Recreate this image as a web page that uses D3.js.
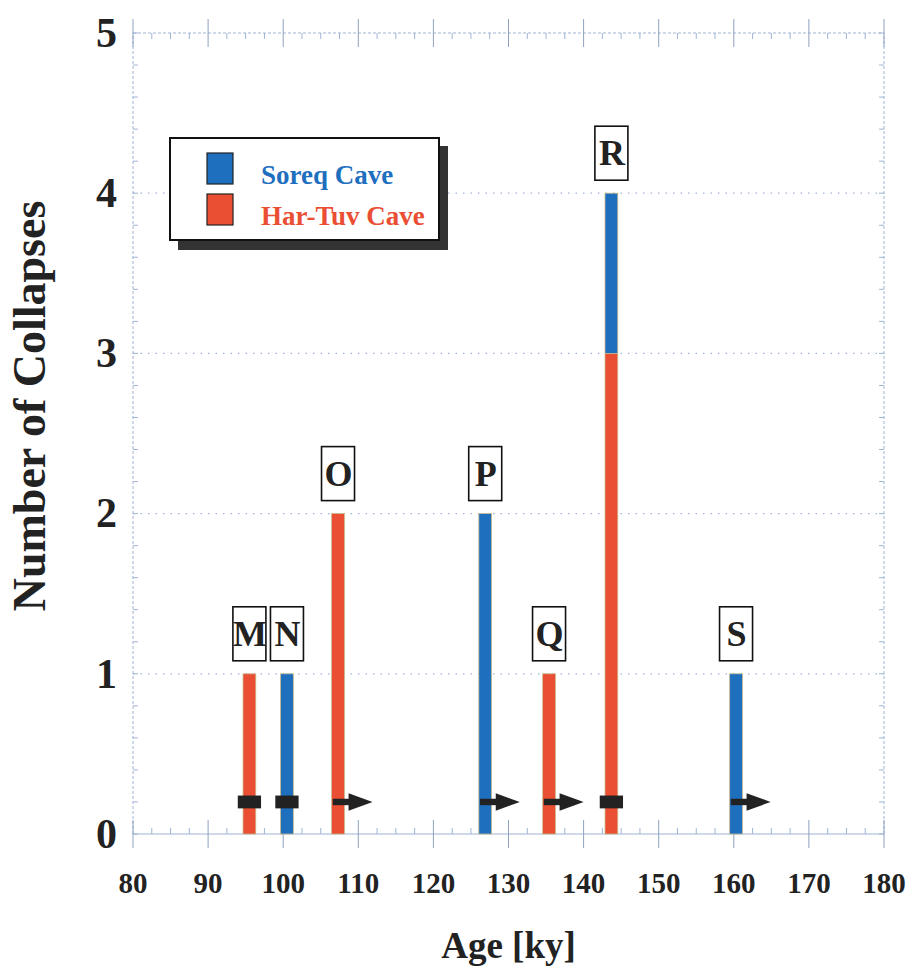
<!DOCTYPE html>
<html>
<head>
<meta charset="utf-8">
<script src="https://cdn.jsdelivr.net/npm/d3@7"></script>
<style>
  body { margin: 0; background: #fff; }
  text { font-family: "Liberation Serif", "Times New Roman", serif; font-weight: bold; }
</style>
</head>
<body>
<div id="chart"></div>
<script>
// Collapse events
const events = ["M", "N", "O", "P", "Q", "R", "S"];
const ages = [95.5, 100.5, 107.3, 126.9, 135.4, 143.7, 160.3];
const harTuv = [1, 0, 2, 0, 1, 3, 0];
const soreq = [0, 1, 0, 2, 0, 1, 1];
// marker drawn near the base of each bar: "box" = dated, "arrow" = older than
const markerTypes = ["box", "box", "arrow", "arrow", "arrow", "box", "arrow"];
const xTicks = [80, 90, 100, 110, 120, 130, 140, 150, 160, 170, 180];
const yTicks = [0, 1, 2, 3, 4, 5];
const seriesNames = ["Soreq Cave", "Har-Tuv Cave"];

const colorSoreq = "#1f6fbf";
const colorHar = "#ea4e33";
const axisColor = "#9fb4d3";

const svg_width = 908;
const svg_height = 972;
const margin = { top: 33, right: 24, bottom: 138, left: 133 };

const x = d3.scaleLinear()
  .domain([80, 180])
  .range([margin.left, svg_width - margin.right]);
const y = d3.scaleLinear()
  .domain([0, 5])
  .range([svg_height - margin.bottom, margin.top]);

const svg = d3.select("#chart").append("svg")
  .attr("width", svg_width)
  .attr("height", svg_height);

const x0 = x(80), x1 = x(180), y0 = y(0), y1 = y(5);

// Gridlines (dotted)
svg.append("g").selectAll("line")
  .data(yTicks.filter(d => d > 0 && d < 5))
  .enter().append("line")
  .attr("x1", x0).attr("x2", x1)
  .attr("y1", d => y(d)).attr("y2", d => y(d))
  .attr("stroke", axisColor)
  .attr("stroke-width", 1.2)
  .attr("stroke-dasharray", "1.5,6");

// Frame
const frame = svg.append("g").attr("stroke", axisColor).attr("stroke-width", 1);
frame.append("line").attr("x1", x0).attr("x2", x1).attr("y1", y0).attr("y2", y0);
frame.append("line").attr("x1", x0).attr("x2", x1).attr("y1", y1).attr("y2", y1).attr("stroke-dasharray", "3,2");
frame.append("line").attr("x1", x0).attr("x2", x0).attr("y1", y0).attr("y2", y1).attr("stroke-dasharray", "3,2");
frame.append("line").attr("x1", x1).attr("x2", x1).attr("y1", y0).attr("y2", y1).attr("stroke-dasharray", "3,2");

// x ticks: major crossing, minor every 2.5
const xMinor = d3.range(80, 180.01, 2.5).filter(d => d % 10 !== 0);
[y0, y1].forEach(function(yy, i) {
  const dir = i === 0 ? -1 : 1;
  frame.append("g").selectAll("line").data(xTicks).enter().append("line")
    .attr("x1", d => x(d)).attr("x2", d => x(d))
    .attr("y1", yy - 14).attr("y2", yy + 14)
    .attr("stroke", "#8ea2bf");
  frame.append("g").selectAll("line").data(xMinor).enter().append("line")
    .attr("x1", d => x(d)).attr("x2", d => x(d))
    .attr("y1", yy).attr("y2", yy + dir * 6);
});
// y ticks: minor every 0.2
const yMinor = d3.range(0, 5.001, 0.2);
[x0, x1].forEach(function(xx, i) {
  const dir = i === 0 ? 1 : -1;
  frame.append("g").selectAll("line").data(yMinor).enter().append("line")
    .attr("y1", d => y(d)).attr("y2", d => y(d))
    .attr("x1", xx).attr("x2", xx + dir * 5);
});

// Bars (Har-Tuv at bottom, Soreq stacked on top)
const barW = 1.7;
const bars = svg.append("g");
ages.forEach(function(a, i) {
  const stacks = [
    { lo: 0, hi: harTuv[i], color: colorHar },
    { lo: harTuv[i], hi: harTuv[i] + soreq[i], color: colorSoreq }
  ].filter(s => s.hi > s.lo);
  bars.selectAll(null).data(stacks).enter().append("rect")
    .attr("x", x(a - barW / 2))
    .attr("width", x(a + barW / 2) - x(a - barW / 2))
    .attr("y", s => y(s.hi))
    .attr("height", s => y(s.lo) - y(s.hi))
    .attr("fill", s => s.color)
    .attr("stroke", "#c9b98a")
    .attr("stroke-width", 0.8);
});

// Markers at 0.2
const markerY = 0.2;
const markers = svg.append("g").attr("fill", "#222");
ages.forEach(function(a, i) {
  if (markerTypes[i] === "box") {
    markers.append("rect")
      .attr("x", x(a - 1.55)).attr("width", x(a + 1.55) - x(a - 1.55))
      .attr("y", y(markerY + 0.04)).attr("height", y(markerY - 0.04) - y(markerY + 0.04));
  } else {
    markers.append("rect")
      .attr("x", x(a - 0.7)).attr("width", x(a + 1.5) - x(a - 0.7))
      .attr("y", y(markerY + 0.02)).attr("height", y(markerY - 0.02) - y(markerY + 0.02));
    markers.append("path")
      .attr("d", "M" + x(a + 1.4) + "," + y(markerY + 0.055) +
        "L" + x(a + 4.6) + "," + y(markerY) +
        "L" + x(a + 1.4) + "," + y(markerY - 0.055) + "Z");
  }
});

// Event labels in boxes
const labels = svg.append("g");
ages.forEach(function(a, i) {
  const top = y(harTuv[i] + soreq[i]);
  const g = labels.append("g").attr("transform", "translate(" + x(a) + "," + (top - 13) + ")");
  g.append("rect")
    .attr("x", -16.5).attr("y", -54).attr("width", 33).attr("height", 54)
    .attr("fill", "#fff").attr("stroke", "#111").attr("stroke-width", 1.6);
  g.append("text")
    .attr("x", 0.5).attr("y", -15)
    .attr("text-anchor", "middle")
    .attr("font-size", 36)
    .attr("fill", "#222")
    .text(events[i]);
});

// Tick labels
svg.append("g").selectAll("text").data(yTicks).enter().append("text")
  .attr("x", 117).attr("y", d => y(d)).attr("dy", "0.33em")
  .attr("text-anchor", "end").attr("font-size", 42).attr("fill", "#222")
  .text(d => d);
svg.append("g").selectAll("text").data(xTicks).enter().append("text")
  .attr("x", d => x(d)).attr("y", 893)
  .attr("text-anchor", "middle").attr("font-size", 29).attr("fill", "#222")
  .text(d => d);

// Axis titles
svg.append("text")
  .attr("x", (x0 + x1) / 2).attr("y", 958)
  .attr("text-anchor", "middle").attr("font-size", 37).attr("fill", "#222")
  .text("Age [ky]");
svg.append("text")
  .attr("transform", "translate(45," + 406 + ") rotate(-90)")
  .attr("text-anchor", "middle").attr("font-size", 46).attr("fill", "#222")
  .text("Number of Collapses");

// Legend
const legend = svg.append("g").attr("transform", "translate(170,138)");
legend.append("rect")
  .attr("x", 8).attr("y", 8).attr("width", 270).attr("height", 104)
  .attr("fill", "#333");
legend.append("rect")
  .attr("x", 0).attr("y", 0).attr("width", 269).attr("height", 102)
  .attr("fill", "#fff").attr("stroke", "#111").attr("stroke-width", 2);
const legendColors = [colorSoreq, colorHar];
seriesNames.forEach(function(name, i) {
  legend.append("rect")
    .attr("x", 37).attr("y", 15 + i * 41).attr("width", 26).attr("height", 31)
    .attr("fill", legendColors[i]).attr("stroke", "#222").attr("stroke-width", 1.2);
  legend.append("text")
    .attr("x", 91).attr("y", 46 + i * 41)
    .attr("font-size", 27).attr("fill", legendColors[i])
    .text(name);
});
</script>
</body>
</html>
